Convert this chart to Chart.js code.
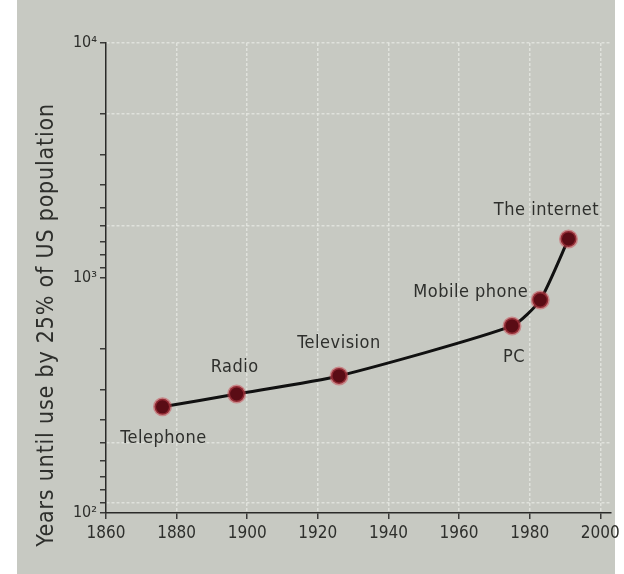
<!DOCTYPE html>
<html>
<head>
<meta charset="utf-8">
<script src="https://cdn.jsdelivr.net/npm/chart.js@4"></script>
<style>
    html, body { margin: 0; padding: 0; background: #ffffff; }
    #wrap { position: relative; width: 624px; height: 574px; }
</style>
</head>
<body>
<div id="wrap"><canvas id="chart"></canvas></div>
<script>
// data
const years = [1876, 1897, 1926, 1975, 1983, 1991];
const values = [283, 321, 383, 625, 806, 1466];
const names = ['Telephone', 'Radio', 'Television', 'PC', 'Mobile phone', 'The internet'];

// axis ticks
const xTicks = [1860, 1880, 1900, 1920, 1940, 1960, 1980, 2000];
const yMajor = [100, 1000, 10000];
const yLabels = ['10\u00B2', '10\u00B3', '10\u2074'];
const yMinor = [500, 333.3, 250, 200, 166.7, 142.9, 125, 111.1,
                5000, 3333, 2500, 2000, 1667, 1429, 1250, 1111];
const yGrid = [10000, 5000, 1667, 200, 111.1];

const yTitle = 'Years until use by 25% of US population';

const FONT = "'Liberation Sans Narrow', 'DejaVu Sans Condensed', 'Roboto', sans-serif";
const TEXT = '#2e2f2c';
const BG = '#c7c9c2';
const GRIDC = 'rgba(232, 234, 228, 0.75)';

// where each name sits next to its point (dx, dy, align)
const labelPlace = [
    [1, 31, 'center'],
    [-2, -27, 'center'],
    [0, -33, 'center'],
    [2, 31, 'center'],
    [-12, -8, 'right'],
    [-22, -29, 'center']
];

const backdrop = {
    id: 'backdrop',
    beforeDraw(chart) {
        const c = chart.ctx;
        c.save();
        c.fillStyle = '#ffffff';
        c.fillRect(0, 0, chart.width, chart.height);
        c.fillStyle = BG;
        c.fillRect(17, 0, 598, chart.height);
        c.restore();
    }
};

const pointNames = {
    id: 'pointNames',
    afterDatasetsDraw(chart) {
        const c = chart.ctx;
        const meta = chart.getDatasetMeta(0);
        c.save();
        c.font = '18px ' + FONT;
        c.fillStyle = TEXT;
        c.textBaseline = 'middle';
        c.letterSpacing = '0.5px';
        meta.data.forEach((pt, i) => {
            const p = labelPlace[i];
            c.textAlign = p[2];
            c.fillText(names[i], pt.x + p[0], pt.y + p[1]);
        });
        // axis title
        c.translate(47, 325);
        c.rotate(-Math.PI / 2);
        c.textAlign = 'center';
        c.font = '23px ' + FONT;
        c.letterSpacing = '0.8px';
        c.fillText(yTitle, 0, 0);
        c.restore();
    }
};

new Chart(document.getElementById('chart'), {
    type: 'line',
    data: {
        datasets: [{
            data: years.map((y, i) => ({ x: y, y: values[i] })),
            borderColor: '#111111',
            borderWidth: 3,
            tension: 0.2,
            pointRadius: 8,
            pointBackgroundColor: '#5a0c15',
            pointBorderColor: 'rgba(200, 70, 80, 0.5)',
            pointBorderWidth: 3
        }]
    },
    options: {
        responsive: true,
        maintainAspectRatio: false,
        animation: false,
        layout: { padding: { left: 20, top: 43, right: 13, bottom: 0 } },
        plugins: {
            legend: { display: false },
            tooltip: { enabled: false }
        },
        scales: {
            x: {
                type: 'linear',
                min: 1860,
                max: 2003,
                afterBuildTicks: scale => { scale.ticks = xTicks.map(v => ({ value: v })); },
                afterFit: scale => { scale.height = 61; },
                ticks: {
                    autoSkip: false,
                    maxRotation: 0,
                    padding: 4,
                    color: TEXT,
                    font: { family: FONT, size: 17 },
                    callback: v => String(v)
                },
                grid: {
                    color: c => (c.tick && c.tick.value !== 1860) ? GRIDC : 'transparent',
                    tickColor: '#3a3a38',
                    tickLength: 6,
                    lineWidth: 1.5
                },
                border: { display: true, color: '#2a2a28', width: 1.5, dash: [3, 2] }
            },
            y: {
                type: 'logarithmic',
                min: 100,
                max: 10000,
                afterBuildTicks: scale => {
                    scale.ticks = yMajor.concat(yMinor).sort((a, b) => a - b).map(v => ({ value: v }));
                },
                afterFit: scale => { scale.width = 86; },
                ticks: {
                    autoSkip: false,
                    padding: 3,
                    color: TEXT,
                    font: { family: FONT, size: 16 },
                    callback: v => {
                        const k = yMajor.indexOf(v);
                        return k >= 0 ? yLabels[k] : '';
                    }
                },
                grid: {
                    color: c => (c.tick && yGrid.some(g => Math.abs(g - c.tick.value) / g < 0.01)) ? GRIDC : 'transparent',
                    tickColor: '#3a3a38',
                    tickLength: 6,
                    lineWidth: 1.5
                },
                border: { display: true, color: '#2a2a28', width: 1.5, dash: [3, 2] }
            }
        }
    },
    plugins: [backdrop, pointNames]
});
</script>
</body>
</html>
